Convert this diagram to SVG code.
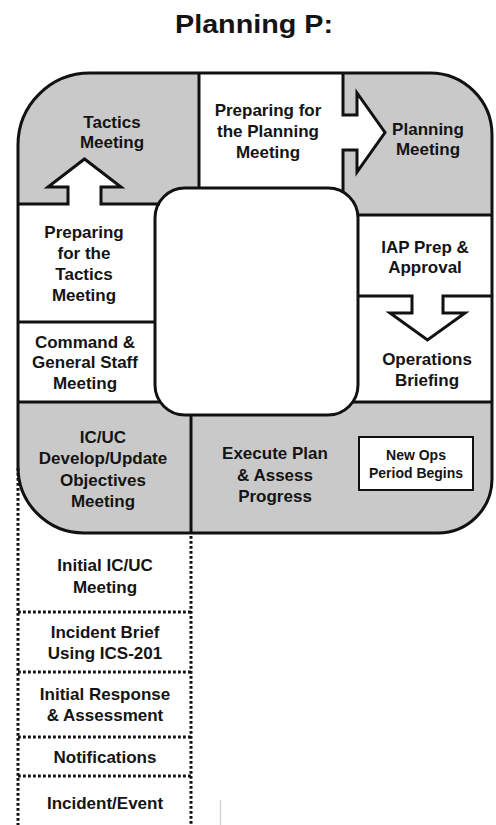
<svg xmlns="http://www.w3.org/2000/svg" width="496" height="825" viewBox="0 0 496 825">
<style>
.t{font-family:"Liberation Sans",Arial,sans-serif;font-weight:bold;font-size:17px;fill:#141414;text-anchor:middle}
.s{font-size:14px}
.ln{fill:none;stroke:#111;stroke-width:3;stroke-linejoin:miter}
.dot{fill:none;stroke:#111;stroke-width:3;stroke-dasharray:2.8 2.2}
.g{fill:#c9c9c9}
.w{fill:#fff}
</style>
<rect width="496" height="825" fill="#fff"/>
<text class="t" x="254" y="33" style="font-size:25px" textLength="158" lengthAdjust="spacingAndGlyphs">Planning P:</text>

<!-- outer background -->
<path id="outer-bg" class="g" d="M90,73 L430,73 A62,62 0 0 1 492,135 L492,479 A54,54 0 0 1 438,533 L84,533 A66,66 0 0 1 18,467 L18,145 A72,72 0 0 1 90,73 Z"/>

<g id="tactics-meeting">
<text class="t" x="112" y="128">Tactics</text>
<text class="t" x="112" y="148">Meeting</text>
</g>

<g id="prep-planning">
<rect class="w" x="199" y="73" width="144" height="118"/>
<polygon class="w" points="341,115 357,115 357,93 385,132.5 357,172 357,150 341,150"/>
<text class="t" x="268" y="116">Preparing for</text>
<text class="t" x="268" y="137">the Planning</text>
<text class="t" x="268" y="158">Meeting</text>
</g>

<g id="planning-meeting">
<text class="t" x="428" y="135">Planning</text>
<text class="t" x="428" y="155">Meeting</text>
</g>

<g id="prep-tactics">
<rect class="w" x="18" y="204" width="167" height="118"/>
<polygon class="w" points="68,206 68,187 48,187 84.5,159 121,187 101,187 101,206"/>
<text class="t" x="84" y="238">Preparing</text>
<text class="t" x="84" y="259">for the</text>
<text class="t" x="84" y="280">Tactics</text>
<text class="t" x="84" y="301">Meeting</text>
</g>

<g id="cgs-meeting">
<rect class="w" x="18" y="322" width="167" height="80"/>
<text class="t" x="85" y="348">Command &amp;</text>
<text class="t" x="85" y="368">General Staff</text>
<text class="t" x="85" y="389">Meeting</text>
</g>

<g id="iap-prep">
<rect class="w" x="328" y="215" width="164" height="81"/>
<text class="t" x="425" y="253">IAP Prep &amp;</text>
<text class="t" x="425" y="273">Approval</text>
</g>

<g id="ops-briefing">
<rect class="w" x="328" y="296" width="164" height="106"/>
<text class="t" x="427" y="365">Operations</text>
<text class="t" x="427" y="386">Briefing</text>
</g>

<g id="center">
<rect x="155" y="188" width="203" height="227" rx="30" ry="30" fill="#fff" stroke="#111" stroke-width="3"/>
</g>

<g id="objectives-meeting">
<text class="t" x="103" y="443">IC/UC</text>
<text class="t" x="103" y="464">Develop/Update</text>
<text class="t" x="103" y="486">Objectives</text>
<text class="t" x="103" y="507">Meeting</text>
</g>

<g id="execute-plan">
<text class="t" x="275" y="459">Execute Plan</text>
<text class="t" x="275" y="481">&amp; Assess</text>
<text class="t" x="275" y="502">Progress</text>
</g>

<g id="new-ops">
<rect x="359" y="437" width="114" height="53" fill="#fff" stroke="#111" stroke-width="2"/>
<text class="t s" x="416" y="460">New Ops</text>
<text class="t s" x="416" y="478">Period Begins</text>
</g>

<g id="connectors">
<path class="ln" d="M199,73 L199,188"/>
<path class="ln" d="M343,73 L343,115 L357,115 L357,93 L385,132.5 L357,172 L357,150 L343,150 L343,192"/>
<path class="ln" d="M18,204 L68,204 L68,187 L48,187 L84.5,159 L121,187 L101,187 L101,204 L160,204"/>
<path class="ln" d="M18,322 L155,322"/>
<path class="ln" d="M18,402 L161,402"/>
<path class="ln" d="M357,215 L492,215"/>
<path class="ln" d="M358,296 L412,296 L412,313 L390,313 L427.5,340 L465,313 L443,313 L443,296 L492,296"/>
<path class="ln" d="M352,402 L492,402"/>
<path class="ln" d="M191,415 L191,533"/>
</g>

<path id="outer" class="ln" d="M90,73 L430,73 A62,62 0 0 1 492,135 L492,479 A54,54 0 0 1 438,533 L84,533 A66,66 0 0 1 18,467 L18,145 A72,72 0 0 1 90,73 Z"/>

<g id="stack-lines">
<path class="dot" d="M18,468 L18,825"/>
<path class="dot" d="M191,536 L191,825"/>
<path class="dot" d="M18,612 L191,612"/>
<path class="dot" d="M18,672 L191,672"/>
<path class="dot" d="M18,737 L191,737"/>
<path class="dot" d="M18,776 L191,776"/>
</g>

<g id="initial-meeting">
<text class="t" x="105" y="571">Initial IC/UC</text>
<text class="t" x="105" y="593">Meeting</text>
</g>
<g id="incident-brief">
<text class="t" x="105" y="638">Incident Brief</text>
<text class="t" x="105" y="659">Using ICS-201</text>
</g>
<g id="initial-response">
<text class="t" x="105" y="700">Initial Response</text>
<text class="t" x="105" y="721">&amp; Assessment</text>
</g>
<g id="notifications">
<text class="t" x="105" y="763">Notifications</text>
</g>
<g id="incident-event">
<text class="t" x="105" y="809">Incident/Event</text>
</g>
<path d="M220.5,800 L220.5,825" stroke="#d4d4d4" stroke-width="1.5"/>
</svg>
